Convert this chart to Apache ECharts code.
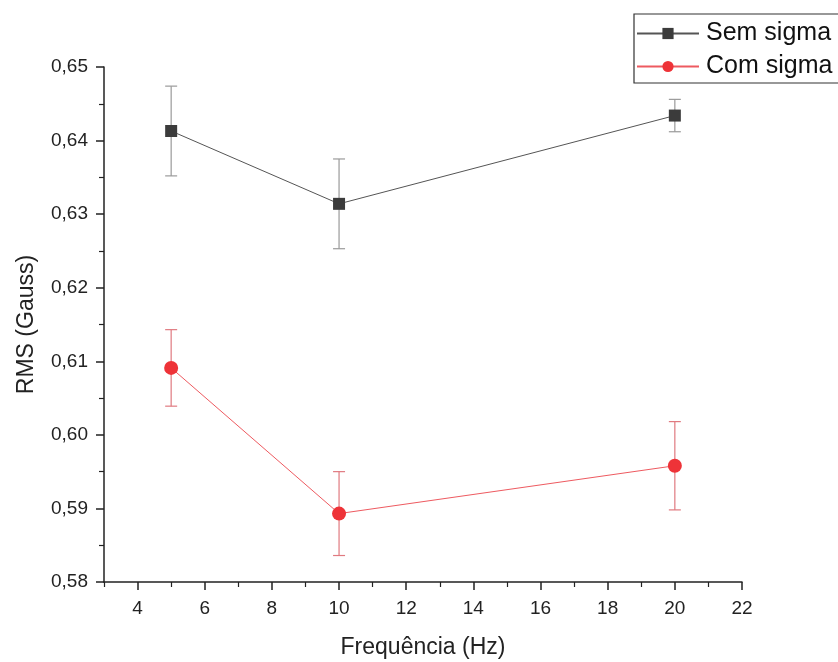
<!DOCTYPE html>
<html>
<head>
<meta charset="utf-8">
<script src="https://cdn.jsdelivr.net/npm/echarts@6/dist/echarts.min.js"></script>
<style>
  html, body { margin: 0; padding: 0; background: #fff; }
  #chart { width: 838px; height: 662px; }
</style>
</head>
<body>
<div id="chart"></div>
<script>
// Frequencies (Hz)
const frequencies = [5, 10, 20];
// RMS values (Gauss) and their uncertainties
const semSigma = [0.6413, 0.6314, 0.6434];
const semSigmaErr = [0.0061, 0.0061, 0.0022];
const comSigma = [0.6091, 0.5893, 0.5958];
const comSigmaErr = [0.0052, 0.0057, 0.0060];
// Axis ticks
const xMajorTicks = [4, 6, 8, 10, 12, 14, 16, 18, 20, 22];
const xMinorTicks = [3, 5, 7, 9, 11, 13, 15, 17, 19, 21];

const FONT = 'Liberation Sans, Arial, sans-serif';

function pairs(xs, ys) { return xs.map((x, i) => [x, ys[i]]); }
function bars(xs, ys, es) { return xs.map((x, i) => [x, ys[i] - es[i], ys[i] + es[i]]); }

function errorBarSeries(name, data, color) {
  return {
    type: 'custom',
    name: name + ' err',
    data: data,
    z: 1,
    silent: true,
    encode: { x: 0, y: [1, 2] },
    renderItem: function (params, api) {
      const x = api.value(0);
      const lo = api.coord([x, api.value(1)]);
      const hi = api.coord([x, api.value(2)]);
      const cap = 6;
      const style = { stroke: color, lineWidth: 1.2 };
      return {
        type: 'group',
        children: [
          { type: 'line', shape: { x1: lo[0], y1: lo[1], x2: hi[0], y2: hi[1] }, style: style },
          { type: 'line', shape: { x1: hi[0] - cap, y1: hi[1], x2: hi[0] + cap, y2: hi[1] }, style: style },
          { type: 'line', shape: { x1: lo[0] - cap, y1: lo[1], x2: lo[0] + cap, y2: lo[1] }, style: style }
        ]
      };
    }
  };
}

const chart = echarts.init(document.getElementById('chart'), null, { renderer: 'canvas' });

chart.setOption({
  animation: false,
  backgroundColor: '#fff',
  grid: { left: 104, right: 96, top: 67, bottom: 80, containLabel: false, outerBoundsMode: 'none' },
  legend: {
    left: 634, top: 14,
    orient: 'vertical',
    data: ['Sem sigma', 'Com sigma'],
    itemWidth: 62, itemHeight: 14, itemGap: 8,
    padding: [7, 40, 4, 2],
    borderColor: '#333', borderWidth: 1.2,
    textStyle: { fontFamily: FONT, fontSize: 25, color: '#111', padding: [0, 0, 0, 2] }
  },
  xAxis: [{
    type: 'value', min: 3, max: 22,
    name: 'Frequência (Hz)', nameLocation: 'middle', nameGap: 54,
    nameTextStyle: { fontFamily: FONT, fontSize: 23, color: '#222' },
    axisLine: { onZero: false, lineStyle: { color: '#222', width: 1.5 } },
    axisTick: { customValues: xMajorTicks, length: 8, inside: false, lineStyle: { color: '#222', width: 1.5 } },
    axisLabel: { customValues: xMajorTicks, margin: 17, fontFamily: FONT, fontSize: 19, color: '#222' },
    splitLine: { show: false }
  }, {
    type: 'value', min: 3, max: 22, position: 'bottom',
    axisLine: { show: false },
    axisTick: { customValues: xMinorTicks, length: 5, lineStyle: { color: '#222', width: 1.2 } },
    axisLabel: { show: false },
    splitLine: { show: false }
  }],
  yAxis: {
    type: 'value', min: 0.58, max: 0.65, interval: 0.01,
    name: 'RMS (Gauss)', nameLocation: 'middle', nameGap: 66, nameRotate: 90,
    nameTextStyle: { fontFamily: FONT, fontSize: 23, color: '#222' },
    axisLine: { show: true, onZero: false, lineStyle: { color: '#222', width: 1.5 } },
    axisTick: { show: true, length: 8, lineStyle: { color: '#222', width: 1.5 } },
    minorTick: { show: true, splitNumber: 2, length: 5, lineStyle: { color: '#222', width: 1.2 } },
    axisLabel: {
      margin: 16, fontFamily: FONT, fontSize: 19, color: '#222',
      formatter: v => v.toFixed(2).replace('.', ',')
    },
    splitLine: { show: false }
  },
  series: [
    errorBarSeries('Sem sigma', bars(frequencies, semSigma, semSigmaErr), '#9a9a9a'),
    errorBarSeries('Com sigma', bars(frequencies, comSigma, comSigmaErr), '#e07a80'),
    {
      name: 'Sem sigma', type: 'line', data: pairs(frequencies, semSigma), z: 3,
      symbol: 'rect', symbolSize: 12,
      itemStyle: { color: '#3b3b3b' },
      lineStyle: { color: '#555', width: 1 }
    },
    {
      name: 'Com sigma', type: 'line', data: pairs(frequencies, comSigma), z: 3,
      symbol: 'circle', symbolSize: 14,
      itemStyle: { color: '#ee3338' },
      lineStyle: { color: '#ee5a60', width: 1 }
    }
  ]
});
</script>
</body>
</html>
